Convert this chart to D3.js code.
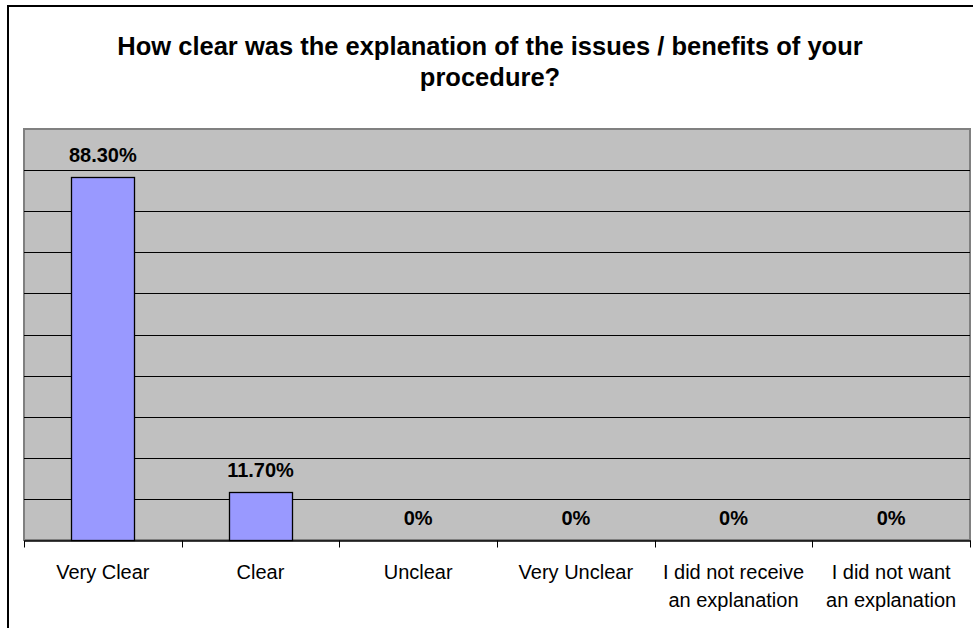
<!DOCTYPE html>
<html><head><meta charset="utf-8">
<script src="https://cdn.jsdelivr.net/npm/d3@7"></script>
<style>html,body{margin:0;padding:0;background:#fff;}svg{display:block;}</style>
</head><body>
<svg id="c" width="973" height="628"></svg>
<script>
const titleLines = ["How clear was the explanation of the issues / benefits of your", "procedure?"];
const categories = ["Very Clear", "Clear", "Unclear", "Very Unclear", "I did not receive\nan explanation", "I did not want\nan explanation"];
const values = [88.3, 11.7, 0, 0, 0, 0];
const valueLabels = ["88.30%", "11.70%", "0%", "0%", "0%", "0%"];
const gridTicks = [10, 20, 30, 40, 50, 60, 70, 80, 90, 100];

const svg = d3.select("#c");
const font = "'Liberation Sans', Arial, sans-serif";
const m = {left: 24, right: 3, top: 129, bottom: 88};
const W = 973, H = 628;
const x = d3.scaleBand().domain(categories).range([m.left, W - m.right]).paddingInner(0.6).paddingOuter(0.3);
const xb = d3.scaleBand().domain(categories).range([m.left, W - m.right]);
const y = d3.scaleLinear().domain([0, 100]).range([H - m.bottom, m.top]);

// outer border
svg.append("rect").attr("x", 8).attr("y", 6).attr("width", 1200).attr("height", 1000)
  .attr("fill", "none").attr("stroke", "#000").attr("stroke-width", 2);

// plot area
svg.append("rect").attr("x", m.left).attr("y", m.top).attr("width", W - m.right - m.left).attr("height", y(0) - m.top)
  .attr("fill", "#c0c0c0").attr("stroke", "#808080").attr("stroke-width", 2);

// gridlines
svg.append("g").selectAll("line").data(gridTicks.slice(0, -1)).join("line")
  .attr("x1", m.left).attr("x2", W - m.right)
  .attr("y1", d => Math.round(y(d)) + 0.5).attr("y2", d => Math.round(y(d)) + 0.5)
  .attr("stroke", "#000").attr("stroke-width", 1);

// bars
svg.append("g").selectAll("rect").data(values).join("rect")
  .attr("x", (d, i) => Math.round(x(categories[i])) + 0.5)
  .attr("width", Math.round(x.bandwidth()))
  .attr("y", d => Math.round(y(d)) + 0.5)
  .attr("height", d => Math.round(y(0)) - Math.round(y(d)))
  .attr("fill", "#9999ff").attr("stroke", "#000").attr("stroke-width", 1.3)
  .style("display", d => d > 0 ? null : "none");

// value labels
svg.append("g").selectAll("text").data(values).join("text")
  .attr("x", (d, i) => xb(categories[i]) + xb.bandwidth() / 2)
  .attr("y", d => y(d) - 15)
  .attr("text-anchor", "middle").attr("font-family", font).attr("font-weight", "bold").attr("font-size", "20px")
  .attr("fill", "#000")
  .text((d, i) => valueLabels[i]);

// x axis
const xAxis = d3.axisBottom(xb).tickSize(0).tickFormat("");
const ax = svg.append("g").attr("transform", `translate(0,${Math.round(y(0)) + 0.5})`).call(xAxis);
ax.select(".domain").attr("stroke", "#000").attr("stroke-width", 1.3);
const tickPos = categories.map(c => xb(c)).concat([W - m.right]);
ax.selectAll(".sep").data(tickPos).join("line").attr("class", "sep")
  .attr("x1", d => Math.round(d) + 0.5).attr("x2", d => Math.round(d) + 0.5)
  .attr("y1", 0).attr("y2", 7).attr("stroke", "#000");

const labels = svg.append("g");
categories.forEach(c => {
  const lines = c.split("\n");
  const t = labels.append("text").attr("text-anchor", "middle").attr("font-family", font).attr("font-size", "20px").attr("fill", "#000");
  lines.forEach((l, i) => {
    t.append("tspan").attr("x", xb(c) + xb.bandwidth() / 2).attr("y", 579 + i * 28).text(l);
  });
});

// title
const tt = svg.append("text").attr("text-anchor", "middle").attr("font-family", font).attr("font-weight", "bold").attr("font-size", "25.5px");
titleLines.forEach((l, i) => tt.append("tspan").attr("x", 490).attr("y", 55 + i * 31).text(l));
</script>
</body></html>
